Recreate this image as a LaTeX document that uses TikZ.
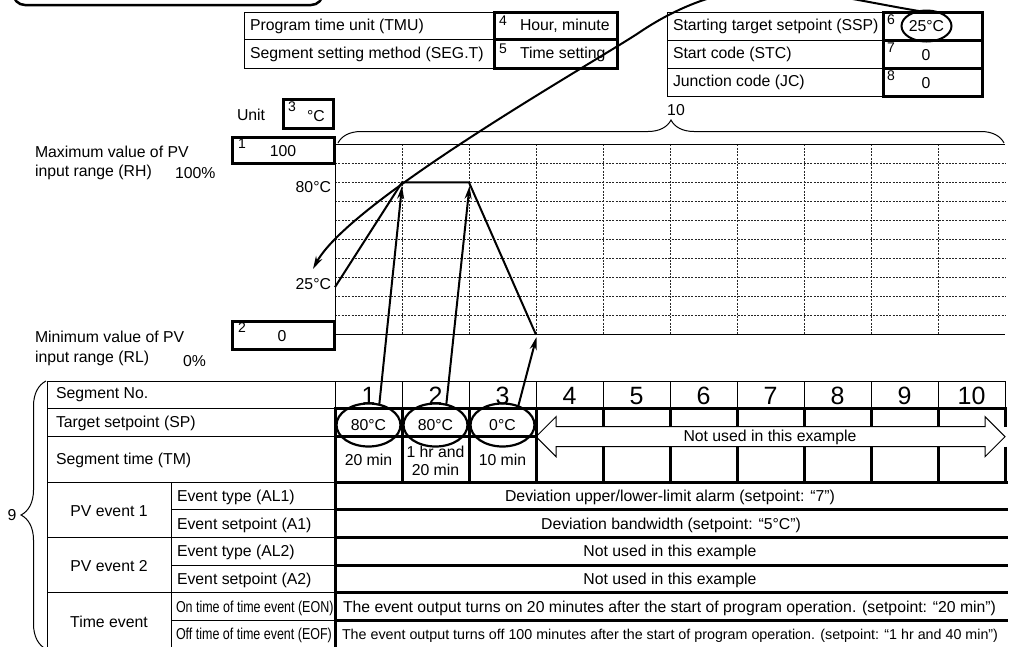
\documentclass[tikz,border=0pt]{standalone}
\usepackage{fontspec}
\setmainfont{Liberation Sans}
\usepackage{graphicx}
\usetikzlibrary{decorations.pathreplacing,shapes.geometric,arrows.meta}
\begin{document}
\begin{tikzpicture}[x=1pt,y=-1pt,
  every node/.style={inner sep=0pt,outer sep=0pt,font=\fontsize{15.8}{18}\selectfont},
  tl/.style={line width=1pt},
  tk/.style={line width=3pt},
  gridl/.style={line width=0.8pt, dash pattern=on 2pt off 1.3pt, black!85},
  num/.style={font=\fontsize{14}{14}\selectfont, anchor=north west},
  big/.style={font=\fontsize{25}{25}\selectfont},
  circ/.style={ellipse, draw, line width=2.2pt, minimum width=64pt, minimum height=43pt},
  arr/.style={line width=2pt, -{Stealth[length=13pt,width=7pt]}},
  lbl/.style={anchor=west},
]
\useasboundingbox (0,0) rectangle (1010,646);

% top-left rounded box
\draw[line width=2.5pt, rounded corners=12pt] (13,-40) rectangle (323,5);

% ---------- top table 1
\draw[tl] (244,12) rectangle (617,68) (244,39.5) -- (494,39.5);
\draw[tk] (494,12) rectangle (617,68) (494,39.5) -- (617,39.5);
\node[lbl] (tmu) at (250,26) {Program time unit (TMU)};
\node[lbl] (segt) at (250,54) {Segment setting method (SEG.T)};
\node[num] (n4) at (499,16) {4};
\node[lbl] (v4) at (520,26) {Hour, minute};
\node[num] (n5) at (499,44) {5};
\node[lbl] (v5) at (520,54) {Time setting};

% ---------- top table 2
\draw[tl] (667,12) rectangle (982,96) (667,40) -- (883,40) (667,68) -- (883,68);
\draw[tk] (883,12) rectangle (982,96) (883,40) -- (982,40) (883,68) -- (982,68);
\node[lbl] (ssplbl) at (673,26) {Starting target setpoint (SSP)};
\node[lbl] (stclbl) at (673,54) {Start code (STC)};
\node[lbl] (jclbl) at (673,82) {Junction code (JC)};
\node[num] (n6) at (887,15) {6};
\node[ellipse, draw, line width=2pt, minimum width=50pt, minimum height=31pt] (ssp) at (926.5,26) {25°C};
\node[num] (n7) at (887,43) {7};
\node (v7) at (926,55) {0};
\node[num] (n8) at (887,71) {8};
\node (v8) at (926,83) {0};

% ---------- unit and range boxes
\node[lbl] (unit) at (237,115) {Unit};
\draw[tk] (283,99) rectangle (333,128);
\node[num] (n3) at (288,102) {3};
\node[lbl] (degc) at (307,116) {°C};

\draw[tk] (232,137) rectangle (334,163);
\node[num] (n1) at (238,139) {1};
\node (v1) at (283,151) {100};
\draw[tk] (232,321) rectangle (334,349);
\node[num] (n2) at (238,323) {2};
\node (v2) at (282,336) {0};

\node[lbl] (rh1) at (35,152) {Maximum value of PV};
\node[lbl] (rh2) at (35,172) {input range (RH)};
\node[lbl] (p100) at (175,173) {100\%};
\node[lbl] (rl1) at (35,337) {Minimum value of PV};
\node[lbl] (rl2) at (35,358) {input range (RL)};
\node[lbl] (p0lbl) at (183,361) {0\%};
\node[anchor=east] (l80) at (331,187) {80°C};
\node[anchor=east] (l25) at (331,284) {25°C};

% ---------- chart grid
\foreach \i in {1,...,9} \draw[gridl] (335,{144.3+19.04*\i}) -- (1005,{144.3+19.04*\i});
\foreach \j in {1,...,9} \draw[gridl] ({335+67*\j},144.3) -- ({335+67*\j},334.7);
\draw[tl] (1005,144.3) -- (335,144.3) -- (335,334.7) -- (1005,334.7);

\coordinate (p25) at (335,287.1);
\coordinate (p80a) at (402,182.4);
\coordinate (p80b) at (469,182.4);
\coordinate (p0) at (536,334.7);
\draw[line width=2pt, line join=miter] (p25) -- (p80a) -- (p80b) -- (p0);

% brace 10
\draw[tl, decorate, decoration={brace, amplitude=23pt}] (338,143) -- (1004,143);
\node (b10) at (676,110) {10};

% ---------- main table
\draw[tl] (47,381) -- (1005,381) -- (1005,408.5);
\draw[tl] (47,381) -- (47,648);
\foreach \k in {1,...,9} \draw[tl] ({335+67*\k},381) -- ({335+67*\k},408.5);
\draw[tl] (335,381) -- (335,408.5);
\draw[tl] (47,408.5) -- (335,408.5) (47,436.7) -- (335,436.7) (47,482.3) -- (335,482.3);
\draw[tl] (47,537.5) -- (335,537.5) (47,592.7) -- (335,592.7);
\draw[tl] (171,509.9) -- (335,509.9) (171,565.1) -- (335,565.1) (171,620.3) -- (335,620.3);
\draw[tl] (171,482.3) -- (171,648);
\draw[tk] (335,408.5) -- (1005,408.5);
\draw[tk] (335,436.7) -- (536,436.7);
\draw[tk] (335,482.3) -- (1008,482.3);
\foreach \yy in {509.9,537.5,565.1,592.7,620.3} \draw[tk] (335,\yy) -- (1008,\yy);
\draw[tk] (335,407) -- (335,648);
\foreach \k in {1,2,3} \draw[tk] ({335+67*\k},407) -- ({335+67*\k},483.8);
\foreach \k in {4,...,10} {
  \draw[tk] ({335+67*\k},407) -- ({335+67*\k},426.7);
  \draw[tk] ({335+67*\k},446.7) -- ({335+67*\k},483.8);
}
% hollow double arrow
\draw[tl, line join=miter] (536,436.7) -- (556,416.7) -- (556,426.7) -- (985,426.7) -- (985,416.7) -- (1005,436.7)
  -- (985,456.7) -- (985,446.7) -- (556,446.7) -- (556,456.7) -- cycle;
\node (nu) at (770,437.5) {Not used in this example};

\foreach \k in {1,...,10} \node[big] (s\k) at ({368.5+67*(\k-1)},396) {\k};

\node[lbl] (segno) at (56,395) {Segment No.};
\node[lbl] (sp) at (56,423) {Target setpoint (SP)};
\node[lbl] (tm) at (56,460) {Segment time (TM)};
\node (pv1) at (109,511) {PV event 1};
\node (pv2) at (109,566) {PV event 2};
\node (tev) at (109,622) {Time event};
\node[lbl] (al1) at (177,497) {Event type (AL1)};
\node[lbl] (a1) at (177,525) {Event setpoint (A1)};
\node[lbl] (al2) at (177,552) {Event type (AL2)};
\node[lbl] (a2) at (177,580) {Event setpoint (A2)};
\node[lbl] (eon) at (176,608) {\scalebox{0.79}[1]{On time of time event (EON)}};
\node[lbl] (eof) at (176,635) {\scalebox{0.79}[1]{Off time of time event (EOF)}};

\node[circ] (e1) at (368.5,425) {80°C};
\node[circ] (e2) at (435.5,425) {80°C};
\node[circ] (e3) at (502.5,425) {0°C};
\node (tm1) at (368.5,460) {20 min};
\node[align=center, font=\fontsize{15.8}{18.3}\selectfont] (tm2) at (435.5,461) {1 hr and\\20 min};
\node (tm3) at (502.5,460) {10 min};

\node (val1) at (670,497) {Deviation upper/lower-limit alarm (setpoint: “7”)};
\node (val2) at (671,525) {Deviation bandwidth (setpoint: “5°C”)};
\node (val3) at (670,552) {Not used in this example};
\node (val4) at (670,580) {Not used in this example};
\node[lbl] (val5) at (343,608) {\resizebox{653pt}{!}{The event output turns on 20 minutes after the start of program operation. (setpoint: “20 min”)}};
\node[lbl] (val6) at (342,636) {\resizebox{656pt}{!}{The event output turns off 100 minutes after the start of program operation. (setpoint: “1 hr and 40 min”)}};

\draw[tl, decorate, decoration={brace, amplitude=25pt}] (46,649) -- (46,381);
\node (b9) at (12,515) {9};

\coordinate (t1) at (402,186);
\coordinate (t2) at (469.5,186);
\coordinate (t3) at (536.5,337);
\draw[arr] (e1.62) -- (t1);
\draw[arr] (e2.62) -- (t2);
\draw[arr] (e3.50) -- (t3);

\coordinate (c25) at (313,269);
\draw[arr] (ssp.115) .. controls (870,3) and (812,-11) .. (765,-11)
  .. controls (725,-11) and (680,5) .. (640,32)
  .. controls (600,59) and (350,200) .. (c25);
\end{tikzpicture}
\end{document}
